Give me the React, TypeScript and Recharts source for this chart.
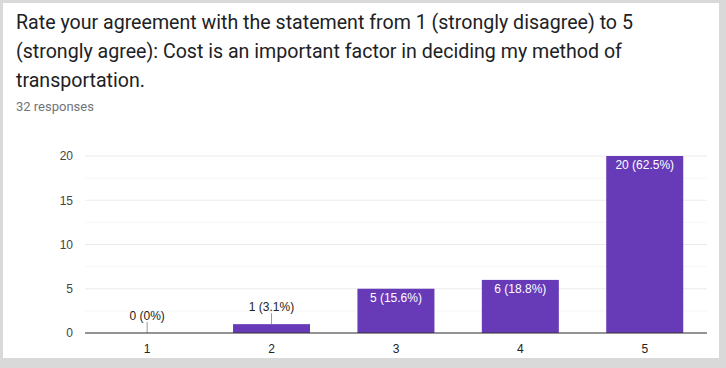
import React from "react"
import { BarChart, Bar, XAxis, YAxis, CartesianGrid } from "recharts"

const categories = ["1", "2", "3", "4", "5"]
const counts = [0, 1, 5, 6, 20]
const percents = ["0%", "3.1%", "15.6%", "18.8%", "62.5%"]
const yTicks = [0, 5, 10, 15, 20]
const minorTicks = [2.5, 7.5, 12.5, 17.5]

const title = "Rate your agreement with the statement from 1 (strongly disagree) to 5 (strongly agree): Cost is an important factor in deciding my method of transportation."
const subtitle = "32 responses"

const data = categories.map((c, i) => ({ name: c, value: counts[i], pct: percents[i] }))

const PURPLE = "#673ab7"
const FONT = "Liberation Sans, Arial, sans-serif"

// draws the bar and its count label (white inside tall bars, above with a leader for short ones)
function BarWithLabel(props: any) {
  const { x, y, width, height, payload } = props
  const text = `${payload.value} (${payload.pct})`
  const cx = x + width / 2
  const h = Math.max(height || 0, 0)
  return (
    <g>
      {h > 0 && <rect x={x} y={y} width={width} height={h} fill={PURPLE} />}
      {h > 20 ? (
        <text x={cx} y={y + 13} textAnchor="middle" fill="#ffffff" fontSize={12} fontFamily={FONT}>
          {text}
        </text>
      ) : (
        <g>
          <line x1={cx} x2={cx} y1={y - 11} y2={y} stroke="#999999" strokeWidth={1} />
          <text x={cx} y={y - 13} textAnchor="middle" fill="#222222" fontSize={12} fontFamily={FONT}>
            {text}
          </text>
        </g>
      )}
    </g>
  )
}

export default function App() {
  return (
    <div style={{ position: "absolute", left: 0, top: 0, width: 726, height: 368, background: "#d9d9d9" }}>
      <div style={{ position: "absolute", left: 3, top: 3, width: 716, height: 355, background: "#ffffff" }} />
      <div
        style={{
          position: "absolute",
          left: 16,
          top: 8,
          width: 660,
          fontFamily: "Roboto, sans-serif",
          fontSize: 19.6,
          lineHeight: "29px",
          color: "#202124",
        }}
      >
        {title}
      </div>
      <div
        style={{
          position: "absolute",
          left: 16,
          top: 99,
          fontFamily: "Roboto, sans-serif",
          fontSize: 13,
          color: "#70757a",
        }}
      >
        {subtitle}
      </div>
      <div style={{ position: "absolute", left: 0, top: 0 }}>
        <BarChart
          width={726}
          height={368}
          data={data}
          margin={{ top: 156, right: 19, bottom: 5, left: 35 }}
          barCategoryGap="19%"
        >
          <CartesianGrid vertical={false} stroke="#f5f5f5" horizontalValues={minorTicks} />
          <CartesianGrid vertical={false} stroke="#ebebeb" />
          <XAxis
            dataKey="name"
            height={30}
            axisLine={{ stroke: "#333333" }}
            tickLine={false}
            tickSize={0}
            tickMargin={11}
            tick={{ fill: "#222222", fontSize: 12, fontFamily: FONT }}
          />
          <YAxis
            width={50}
            domain={[0, 20]}
            ticks={yTicks}
            axisLine={false}
            tickLine={false}
            tickSize={0}
            tickMargin={12}
            tick={{ fill: "#444444", fontSize: 12, fontFamily: FONT }}
          />
          <Bar dataKey="value" fill={PURPLE} isAnimationActive={false} shape={BarWithLabel} />
        </BarChart>
      </div>
    </div>
  )
}
